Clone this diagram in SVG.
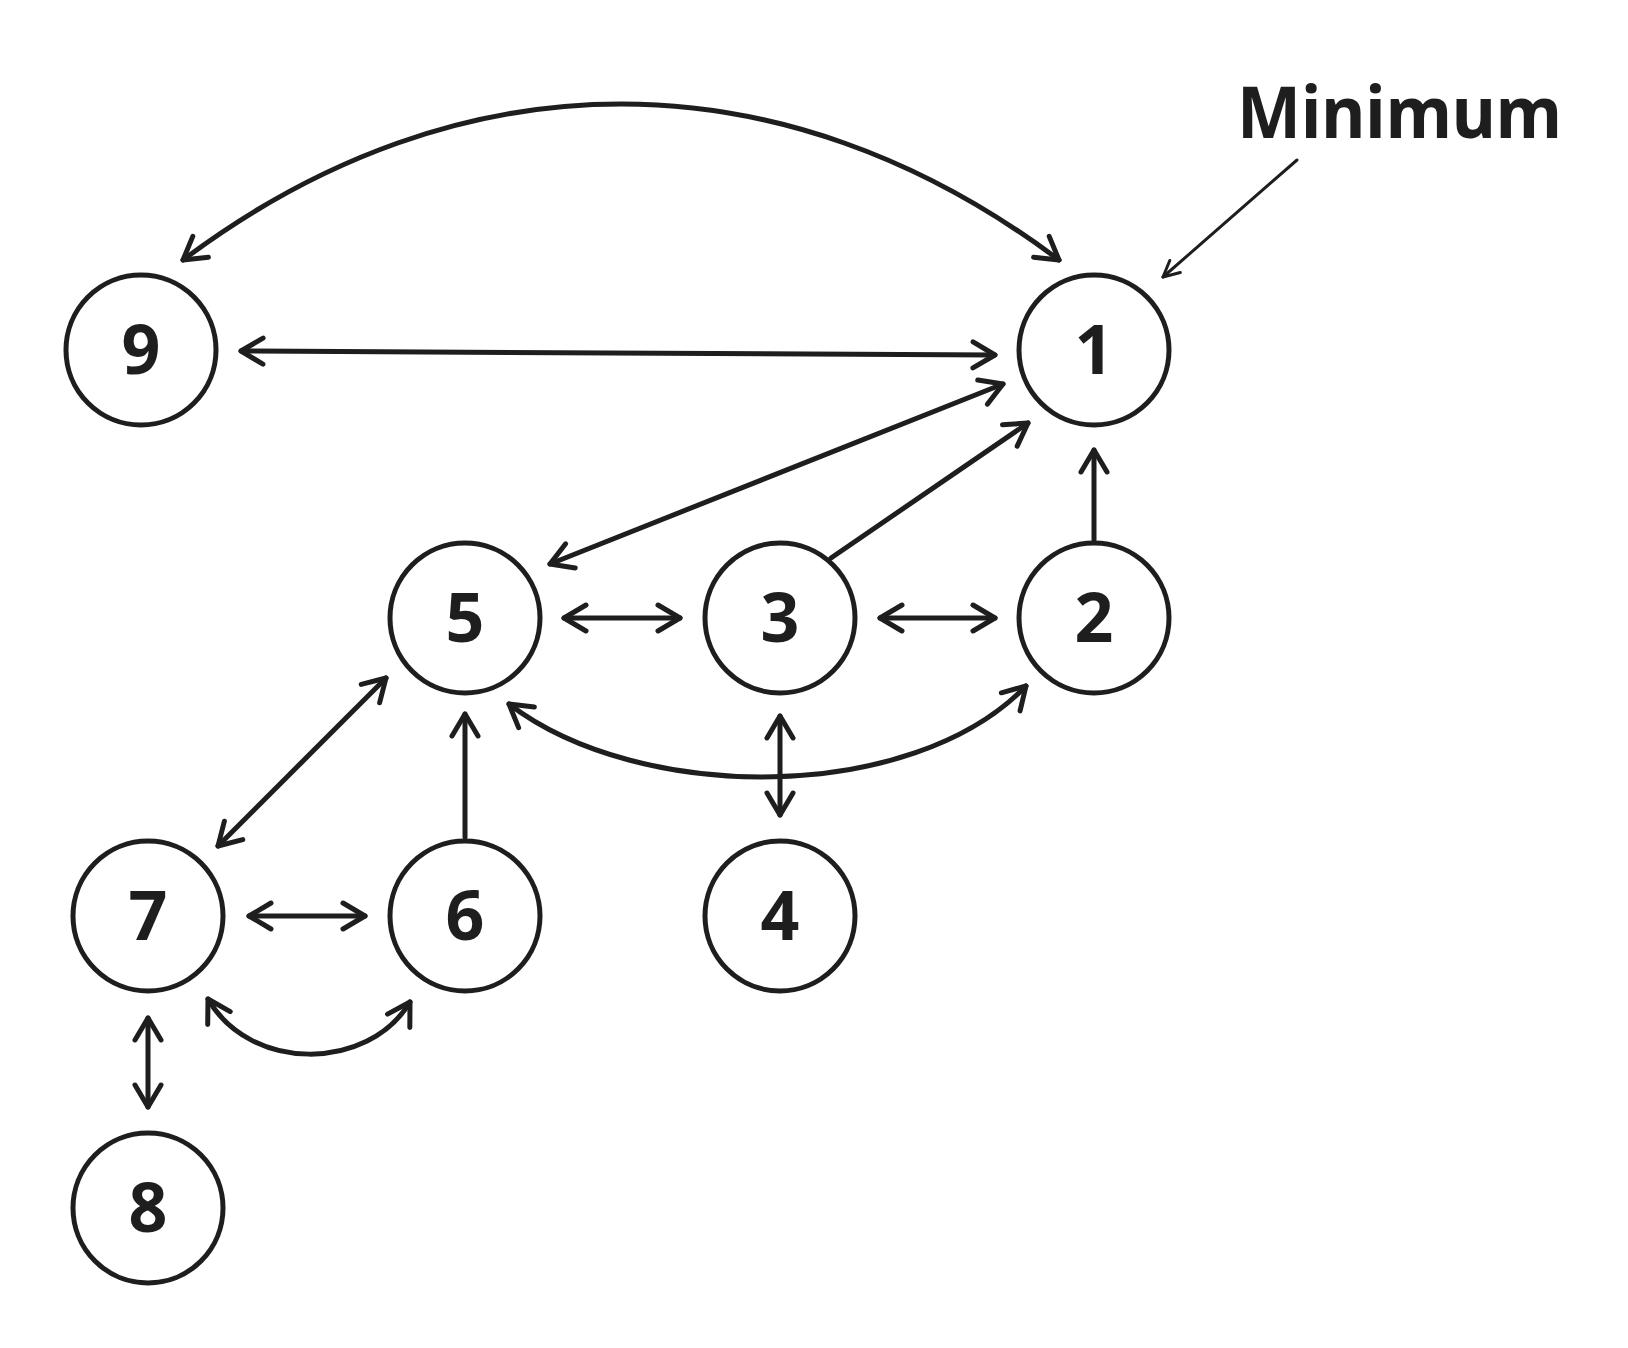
<svg xmlns="http://www.w3.org/2000/svg" width="1628" height="1348" viewBox="0 0 1628 1348">
<style>
.node circle{fill:#ffffff;stroke:#1e1e1e;stroke-width:5}
.node text{font-family:"Noto Sans","DejaVu Sans",sans-serif;font-weight:bold;font-size:68px;fill:#1e1e1e;text-anchor:middle}
.edge{fill:none;stroke:#1e1e1e;stroke-width:5;stroke-linecap:round}
.thin{fill:none;stroke:#1e1e1e;stroke-width:3;stroke-linecap:round}
.label{font-family:"Noto Sans","DejaVu Sans",sans-serif;font-weight:bold;font-size:72px;fill:#1e1e1e}
</style>
<defs>
<marker id="ah" markerUnits="userSpaceOnUse" viewBox="-28 -18 32 36" refX="0" refY="0" markerWidth="32" markerHeight="36" orient="auto-start-reverse" overflow="visible">
<path d="M -22 -13 L 0 0 L -22 13" fill="none" stroke="#1e1e1e" stroke-width="5" stroke-linecap="round" stroke-linejoin="round"/>
</marker>
<marker id="ahs" markerUnits="userSpaceOnUse" viewBox="-20 -12 24 24" refX="0" refY="0" markerWidth="24" markerHeight="24" orient="auto" overflow="visible">
<path d="M -16 -8 L 0 0 L -16 8" fill="none" stroke="#1e1e1e" stroke-width="3" stroke-linecap="round" stroke-linejoin="round"/>
</marker>
</defs>
<rect width="1628" height="1348" fill="#ffffff"/>
<g id="connectors">
<path class="edge" d="M 183 260 C 460 52, 782 52, 1059 260" marker-start="url(#ah)" marker-end="url(#ah)"/>
<path class="edge" d="M 241 351 L 995 355" marker-start="url(#ah)" marker-end="url(#ah)"/>
<path class="edge" d="M 550 564 L 1003 384" marker-start="url(#ah)" marker-end="url(#ah)"/>
<path class="edge" d="M 831 558 L 1028 423" marker-end="url(#ah)"/>
<path class="edge" d="M 1094 540 L 1094 450" marker-end="url(#ah)"/>
<path class="edge" d="M 564 618 L 680 618" marker-start="url(#ah)" marker-end="url(#ah)"/>
<path class="edge" d="M 880 618 L 995 618" marker-start="url(#ah)" marker-end="url(#ah)"/>
<path class="edge" d="M 509 704 C 640 804, 912 804, 1026 686" marker-start="url(#ah)" marker-end="url(#ah)"/>
<path class="edge" d="M 780 716 L 780 815" marker-start="url(#ah)" marker-end="url(#ah)"/>
<path class="edge" d="M 386 678 L 218 846" marker-start="url(#ah)" marker-end="url(#ah)"/>
<path class="edge" d="M 465 837 L 465 714" marker-end="url(#ah)"/>
<path class="edge" d="M 249 916 L 365 916" marker-start="url(#ah)" marker-end="url(#ah)"/>
<path class="edge" d="M 208 999 C 250 1072, 368 1072, 410 1002" marker-start="url(#ah)" marker-end="url(#ah)"/>
<path class="edge" d="M 148 1018 L 148 1107" marker-start="url(#ah)" marker-end="url(#ah)"/>
<path class="thin" d="M 1297 160 L 1163 277" marker-end="url(#ahs)"/>
</g>
<g id="node-9" class="node"><circle cx="141" cy="350" r="75"/><text x="141" y="374">9</text></g>
<g id="node-1" class="node"><circle cx="1094" cy="350" r="75"/><text x="1094" y="374">1</text></g>
<g id="node-5" class="node"><circle cx="465" cy="618" r="75"/><text x="465" y="642">5</text></g>
<g id="node-3" class="node"><circle cx="780" cy="618" r="75"/><text x="780" y="642">3</text></g>
<g id="node-2" class="node"><circle cx="1094" cy="618" r="75"/><text x="1094" y="642">2</text></g>
<g id="node-7" class="node"><circle cx="148" cy="916" r="75"/><text x="148" y="940">7</text></g>
<g id="node-6" class="node"><circle cx="465" cy="916" r="75"/><text x="465" y="940">6</text></g>
<g id="node-4" class="node"><circle cx="780" cy="916" r="75"/><text x="780" y="940">4</text></g>
<g id="node-8" class="node"><circle cx="148" cy="1208" r="75"/><text x="148" y="1232">8</text></g>
<g id="label-minimum"><text class="label" x="1237" y="138" textLength="325" lengthAdjust="spacingAndGlyphs">Minimum</text></g>
</svg>
